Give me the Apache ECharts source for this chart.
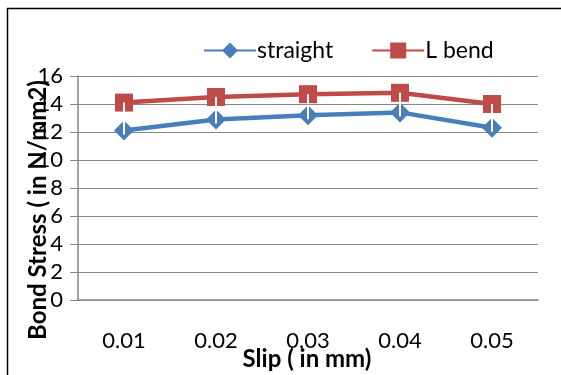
<!DOCTYPE html>
<html><head><meta charset="utf-8">
<script src="https://cdn.jsdelivr.net/npm/echarts@6/dist/echarts.min.js"></script>
<style>html,body{margin:0;padding:0;background:#fff}#c{width:561px;height:375px}</style>
</head><body><div id="c"></div>
<script>
const categories = ['0.01','0.02','0.03','0.04','0.05'];
const straight = [12.1, 12.9, 13.2, 13.4, 12.3];
const lBend = [14.1, 14.5, 14.7, 14.8, 14.0];
const yTicks = {min: 0, max: 16, interval: 2};
const FONT = 'Lato';
function whiteBar(data, up, down) {
  return {
    type: 'custom', silent: true, z: 5, legendHoverLink: false,
    data: data.map((v, i) => [i, v]),
    renderItem: function (params, api) {
      const p = api.coord([api.value(0), api.value(1)]);
      return {type: 'line', shape: {x1: p[0], y1: p[1] - up, x2: p[0], y2: p[1] + down},
              style: {stroke: '#fff', lineWidth: 2}};
    }
  };
}
const chart = echarts.init(document.getElementById('c'));
chart.setOption({
  animation: false,
  textStyle: {fontFamily: FONT},
  grid: {left: 78, right: 23, top: 76, bottom: 75},
  legend: {
    top: 34, left: 198, itemGap: 38, itemWidth: 52, itemHeight: 20,
    textStyle: {fontFamily: FONT, fontSize: 23, color: '#000', padding: [0,0,0,-4]},
    data: ['straight', 'L bend']
  },
  xAxis: {
    type: 'category', data: categories, boundaryGap: true,
    axisLine: {lineStyle: {color: '#868686', width: 1.5}},
    axisTick: {show: false},
    axisLabel: {fontFamily: FONT, fontSize: 22, color: '#000', margin: 30}
  },
  yAxis: {
    type: 'value', min: yTicks.min, max: yTicks.max, interval: yTicks.interval,
    axisLine: {show: true, lineStyle: {color: '#868686', width: 1.5}},
    axisTick: {show: true, length: 8, lineStyle: {color: '#868686'}},
    splitLine: {lineStyle: {color: '#868686', width: 1.2}},
    axisLabel: {fontFamily: FONT, fontSize: 22, color: '#000', margin: 15}
  },
  graphic: [
    {type: 'rect', shape: {x: 7.5, y: 8.5, width: 700, height: 500}, style: {fill: 'none', stroke: '#000', lineWidth: 1.5}, z: -1},
    {type: 'text', x: 38, y: 210, rotation: Math.PI / 2,
     style: {text: 'Bond Stress ( in N/mm2)', font: 'bold 24px ' + FONT, fill: '#000', textAlign: 'center', textVerticalAlign: 'middle'}, z: 100},
    {type: 'text', x: 307, y: 359,
     style: {text: 'Slip ( in mm)', font: 'bold 24px ' + FONT, fill: '#000', textAlign: 'center', textVerticalAlign: 'middle'}, z: 100}
  ],
  series: [
    {name: 'straight', type: 'line', data: straight, symbol: 'diamond', symbolSize: 20,
     itemStyle: {color: '#4A7EBB'}, lineStyle: {color: '#4A7EBB', width: 4.5}},
    {name: 'L bend', type: 'line', data: lBend, symbol: 'rect', symbolSize: 18,
     itemStyle: {color: '#BE4B48'}, lineStyle: {color: '#BE4B48', width: 4.5}},
    whiteBar(straight, 10, 4),
    whiteBar(lBend, 0, 10)
  ]
});
</script></body></html>
